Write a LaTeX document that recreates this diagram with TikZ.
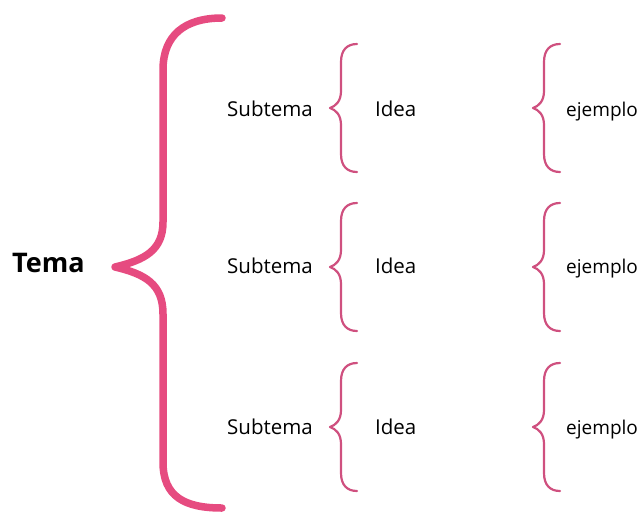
\documentclass[tikz,border=0pt]{standalone}
\usepackage{fontspec}
\setmainfont{Open Sans}
\definecolor{rosa}{HTML}{E64B80}
\definecolor{rosaclaro}{HTML}{CF507F}
\tikzset{
  texto/.style={anchor=base west,inner sep=0pt,font=\fontsize{20.5}{24}\selectfont},
  llave/.style={rosaclaro,line width=2.2pt,line cap=round,line join=round}
}
% small brace, opening to the right, tip at (#1,#2)
\newcommand{\llavechica}[2]{%
  \draw[llave] (#1+27,#2-64) .. controls (#1+17,#2-64) and (#1+11,#2-58) .. (#1+11,#2-46)
    -- (#1+11,#2-17) .. controls (#1+11,#2-7) and (#1+6,#2-2) .. (#1,#2)
    .. controls (#1+6,#2+2) and (#1+11,#2+7) .. (#1+11,#2+17)
    -- (#1+11,#2+46) .. controls (#1+11,#2+58) and (#1+17,#2+64) .. (#1+27,#2+64);}
\begin{document}
\begin{tikzpicture}[x=1pt,y=-1pt]
\useasboundingbox (0,0) rectangle (637,515);
% big brace
\coordinate (punta) at (115,267);
\draw[rosa,line width=7.5pt,line cap=round,line join=round]
  (222,18) .. controls (185,18) and (163,35) .. (163,70) -- (163,222)
  .. controls (163,250) and (145,260) .. (punta)
  .. controls (145,274) and (163,284) .. (163,314) -- (163,462)
  .. controls (163,497) and (185,508) .. (222,508);
\node[anchor=base west,inner sep=0pt,font=\fontsize{27}{31}\selectfont\bfseries] (tema) at (12,272) {Tema};
\foreach \i/\y/\t in {1/116/108, 2/273/267, 3/434/427} {
  \node[texto] (sub\i) at (227,\y) {Subtema};
  \node[texto] (idea\i) at (375,\y) {Idea};
  \node[texto,font=\fontsize{19}{22}\selectfont] (ej\i) at (566,\y) {ejemplo};
  \llavechica{330}{\t}
  \llavechica{533}{\t}
}
\end{tikzpicture}
\end{document}
